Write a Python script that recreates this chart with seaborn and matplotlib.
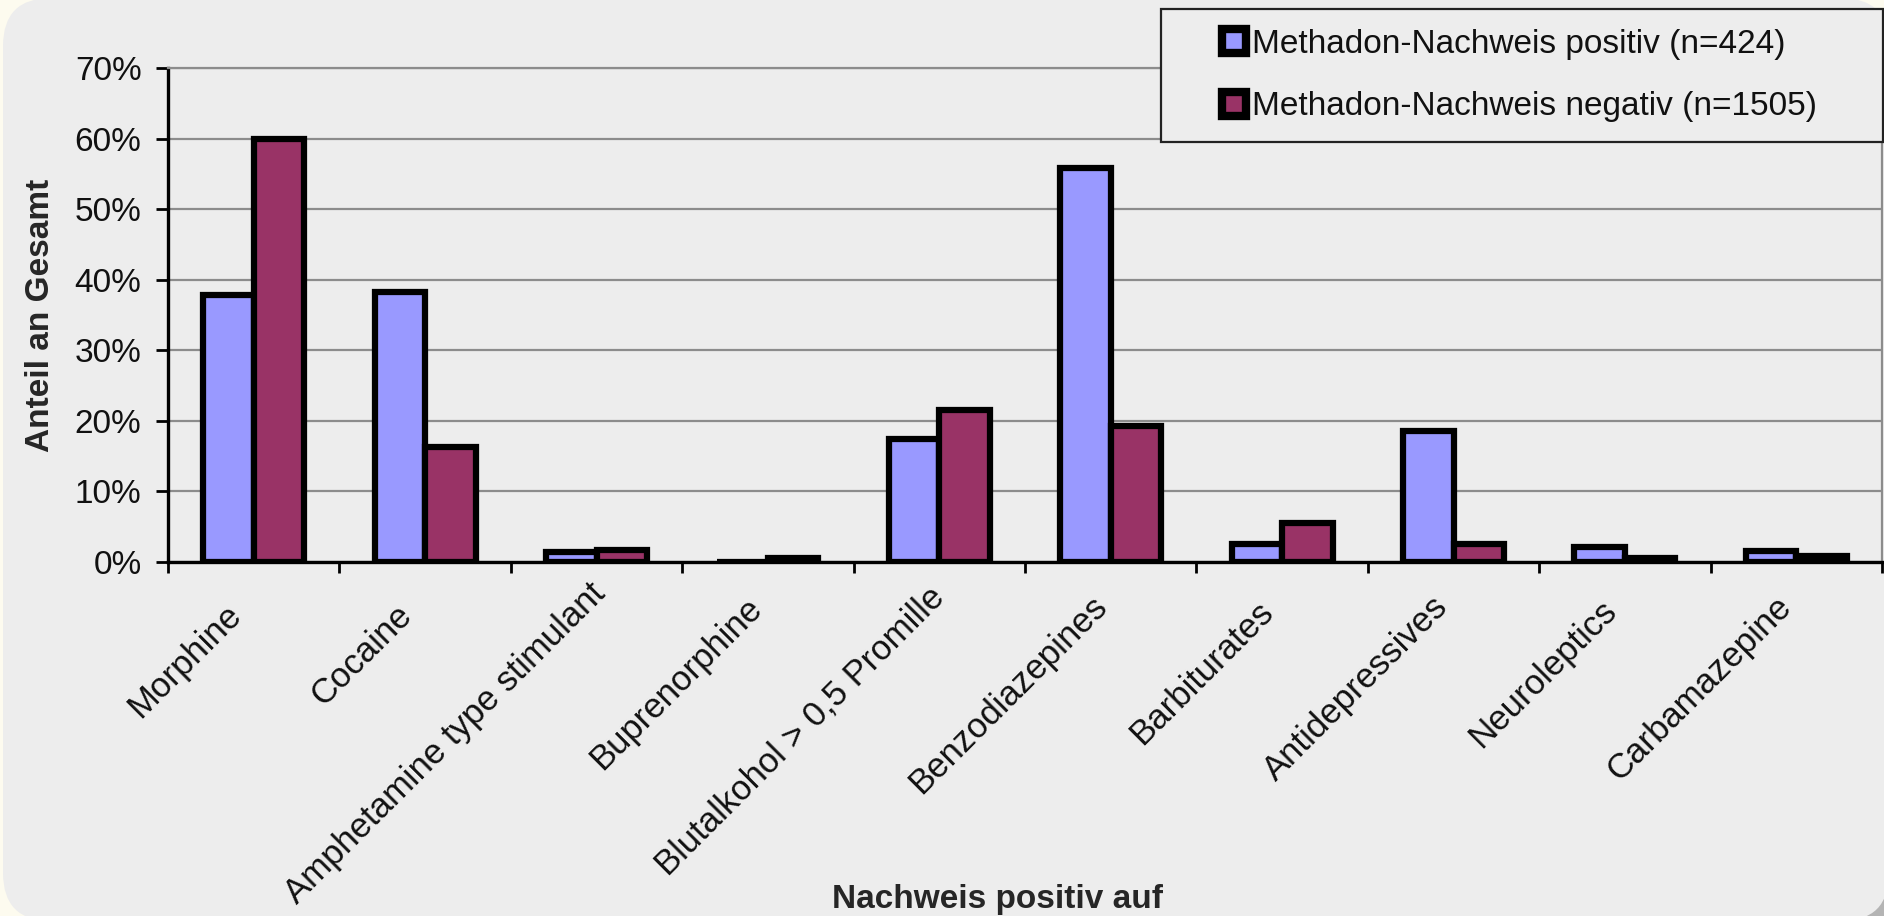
import pandas as pd
import matplotlib
matplotlib.use("Agg")
import matplotlib.pyplot as plt
import matplotlib.transforms as mtransforms
from matplotlib.patches import FancyBboxPatch, Rectangle, Patch
import seaborn as sns

categories = ["Morphine", "Cocaine", "Amphetamine type stimulant", "Buprenorphine",
              "Blutalkohol > 0,5 Promille", "Benzodiazepines", "Barbiturates",
              "Antidepressives", "Neuroleptics", "Carbamazepine"]
positiv = [37.8, 38.3, 1.4, 0.0, 17.5, 55.8, 2.5, 18.6, 2.1, 1.6]
negativ = [59.9, 16.3, 1.7, 0.6, 21.6, 19.3, 5.5, 2.5, 0.6, 0.9]
series = ["Methadon-Nachweis positiv (n=424)", "Methadon-Nachweis negativ (n=1505)"]
yticks = [0, 10, 20, 30, 40, 50, 60, 70]

colors = ["#9999FF", "#993366"]
bg = "#EDEDED"

df = pd.DataFrame({
    "cat": categories * 2,
    "val": positiv + negativ,
    "series": [series[0]] * len(categories) + [series[1]] * len(categories),
})

sns.set_theme(style="white")
plt.rcParams["font.family"] = ["Liberation Sans", "DejaVu Sans"]
plt.rcParams["text.color"] = "#111111"

W, H = 1884, 916
fig = plt.figure(figsize=(W / 100, H / 100), dpi=100)
fig.patch.set_facecolor("#FDFBEF")

# background: rounded grey panel with dark corner behind at bottom right
px = fig.dpi_scale_trans
fig.add_artist(Rectangle((17.5, 0), 1.34, 0.6, transform=px,
                         facecolor="#B4B4B4", edgecolor="none", zorder=-20))
fig.add_artist(FancyBboxPatch((0.03, -0.05), (W + 5 - 3) / 100, (H + 7) / 100,
                              boxstyle="round,pad=0,rounding_size=0.48",
                              transform=px, facecolor=bg, edgecolor="none", zorder=-10))

ax = fig.add_axes([168 / W, 1 - 562 / H, (1882 - 168) / W, (562 - 68) / H])
ax.set_facecolor("none")

sns.barplot(data=df, x="cat", y="val", hue="series", order=categories, hue_order=series,
            palette=colors, saturation=1, width=0.59, gap=0, edgecolor="black",
            linewidth=4.5, legend=False, ax=ax)

ax.set_xlim(-0.5, len(categories) - 0.5)
ax.set_ylim(0, 70)
ax.set_yticks(yticks)
ax.set_yticklabels([f"{v}%" for v in yticks])
ax.set_axisbelow(True)
ax.yaxis.grid(True, color="#8C8C8C", linewidth=1.6)
ax.xaxis.grid(False)

for s in ["left", "bottom"]:
    ax.spines[s].set_color("black")
    ax.spines[s].set_linewidth(2.4)
for s in ["top", "right"]:
    ax.spines[s].set_color("#8C8C8C")
    ax.spines[s].set_linewidth(1.6)

ax.tick_params(axis="y", which="major", direction="out", length=9, width=2, color="black",
               labelsize=24, pad=10, left=True, labelcolor="#111111")
ax.set_xticks(range(len(categories)))
ax.set_xticks([i - 0.5 for i in range(len(categories) + 1)], minor=True)
ax.tick_params(axis="x", which="major", length=0, labelsize=25, pad=30, labelcolor="#111111")
ax.tick_params(axis="x", which="minor", direction="out", length=8, width=2, color="black", bottom=True)
ax.set_xticklabels(categories, rotation=45, ha="right", rotation_mode="anchor")

# Excel-like placement: longer rotated labels sit slightly further up along the diagonal
fig.canvas.draw()
rend = fig.canvas.get_renderer()
labels = ax.get_xticklabels()
base_w = labels[0].get_window_extent(rend).width
for lab in labels:
    t = 0.1 * (lab.get_window_extent(rend).width - base_w)
    off = mtransforms.ScaledTranslation((-29 + t) / 100, (6 + t) / 100, px)
    lab.set_transform(lab.get_transform() + off)

ax.set_xlabel("Nachweis positiv auf", fontsize=24, fontweight="bold")
ax.xaxis.set_label_coords(0.484, -0.651)
ax.set_ylabel("Anteil an Gesamt", fontsize=24, fontweight="bold")
ax.yaxis.set_label_coords(-0.0655, 0.5)

# legend box
fig.add_artist(Rectangle((1161 / W, 1 - 142 / H), (1883 - 1161) / W, (142 - 9) / H,
                         transform=fig.transFigure, facecolor=bg, edgecolor="#222222",
                         linewidth=1.6, zorder=5))
handles = [Patch(facecolor=c, edgecolor="black", linewidth=6) for c in colors]
leg = fig.legend(handles, series, loc="upper left", bbox_to_anchor=(1205 / W, 1 - 12 / H),
                 frameon=False, fontsize=24, borderpad=0, handlelength=0.72, handleheight=0.72,
                 handletextpad=0.2, labelspacing=0.95)
leg.set_zorder(6)

fig.savefig("out.png", dpi=100, facecolor=fig.get_facecolor())
